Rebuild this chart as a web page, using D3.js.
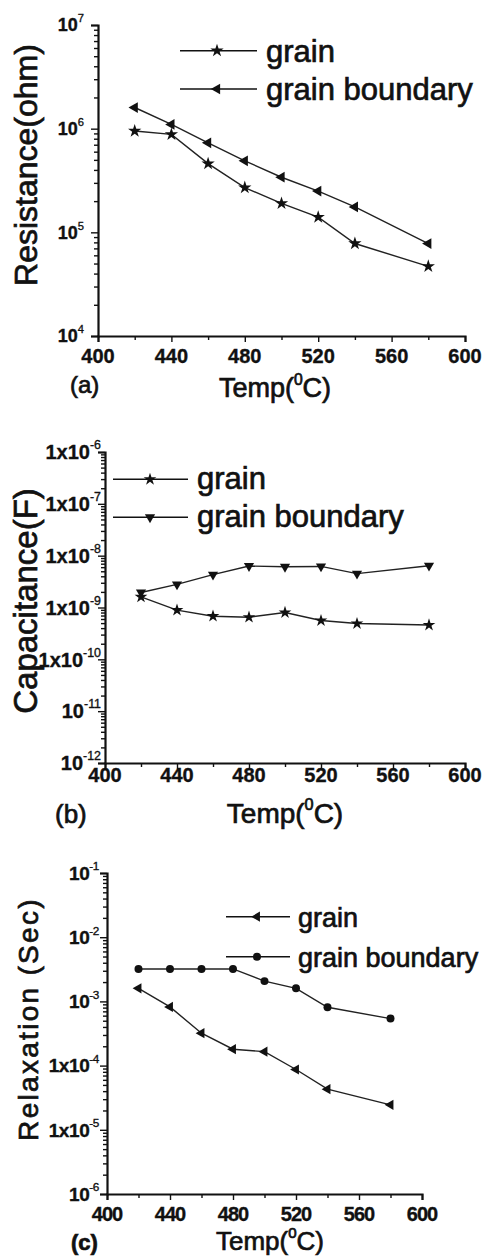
<!DOCTYPE html>
<html>
<head>
<meta charset="utf-8">
<script src="https://cdn.jsdelivr.net/npm/d3@7"></script>
<style>
  body { margin: 0; background: #fff; }
  svg { display: block; }
  text { font-family: "Liberation Sans", Arial, sans-serif; fill: #111; stroke: #111; stroke-width: 0.35; }
  text.heavy { stroke-width: 0.7; }
</style>
</head>
<body>
<svg id="fig" width="485" height="1260"></svg>
<script>
// ---- data ----
const temps = [420, 440, 460, 480, 500, 520, 540, 580];

const resistanceGrain    = [9.5e5, 8.8e5, 4.6e5, 2.7e5, 1.9e5, 1.4e5, 7.8e4, 4.7e4];
const resistanceBoundary = [1.6e6, 1.1e6, 7.3e5, 4.9e5, 3.4e5, 2.5e5, 1.76e5, 7.8e4];

const capacitanceGrain    = [1.6e-9, 8.9e-10, 6.8e-10, 6.5e-10, 8.0e-10, 5.6e-10, 4.9e-10, 4.6e-10];
const capacitanceBoundary = [1.95e-9, 2.8e-9, 4.3e-9, 6.3e-9, 6.1e-9, 6.2e-9, 4.5e-9, 6.4e-9];

const relaxationGrain    = [1.6e-3, 8.2e-4, 3.2e-4, 1.8e-4, 1.65e-4, 8.7e-5, 4.3e-5, 2.45e-5];
const relaxationBoundary = [3.2e-3, 3.2e-3, 3.2e-3, 3.2e-3, 2.07e-3, 1.6e-3, 8.1e-4, 5.4e-4];

const seriesNames = ["grain", "grain boundary"];

// axis ticks
const xTicks      = [400, 440, 480, 520, 560, 600];
const xMinorTicks = [420, 460, 500, 540, 580];
const resExponents = [4, 5, 6, 7];
const resPrefixed  = [];
const capExponents = [-12, -11, -10, -9, -8, -7, -6];
const capPrefixed  = [-10, -9, -8, -7, -6];     // written as 1x10^n
const relExponents = [-6, -5, -4, -3, -2, -1];
const relPrefixed  = [-5, -4];

const svg = d3.select("#fig");

const symbols = {
  star:  { type: d3.symbolStar, rot: 0 },
  left:  { type: d3.symbolTriangle, rot: -90 },
  down:  { type: d3.symbolTriangle, rot: 180 },
  circle:{ type: d3.symbolCircle, rot: 0 }
};

function marker(g, kind, size, cx, cy) {
  const s = symbols[kind];
  g.append("path")
    .attr("d", d3.symbol().type(s.type).size(size)())
    .attr("transform", `translate(${cx},${cy}) rotate(${s.rot})`)
    .attr("fill", "#111");
}

function panel(cfg) {
  const g = svg.append("g");
  const x = d3.scaleLinear().domain([400, 600]).range([cfg.x0, cfg.x1]);
  const y = d3.scaleLog()
    .domain([Math.pow(10, cfg.exps[0]), Math.pow(10, cfg.exps[cfg.exps.length - 1])])
    .range([cfg.yBot, cfg.yTop]);

  // minor log ticks: 2..9 in every decade
  const minor = [];
  for (let i = 0; i < cfg.exps.length - 1; i++) {
    for (let k = 2; k <= 9; k++) minor.push(k * Math.pow(10, cfg.exps[i]));
  }
  const major = cfg.exps.map(e => Math.pow(10, e));

  const yAxis = g.append("g").attr("transform", `translate(${cfg.x0},0)`);
  yAxis.call(d3.axisLeft(y).tickValues(major).tickSize(7).tickFormat(""));
  yAxis.append("g").call(d3.axisLeft(y).tickValues(minor).tickSize(4).tickFormat(""))
    .select(".domain").remove();

  const xAxis = g.append("g").attr("transform", `translate(0,${cfg.yBot})`);
  xAxis.call(d3.axisBottom(x).tickValues(xTicks).tickSize(6).tickFormat(""));
  xAxis.append("g").call(d3.axisBottom(x).tickValues(xMinorTicks).tickSize(4).tickFormat(""))
    .select(".domain").remove();

  g.selectAll(".domain").attr("stroke", "#111").attr("stroke-width", 2.2);
  g.selectAll(".tick line").attr("stroke", "#111").attr("stroke-width", 1.4);

  // y tick labels (powers of ten with superscript exponent)
  cfg.exps.forEach(e => {
    const t = g.append("text")
      .attr("x", cfg.yLabelX)
      .attr("y", y(Math.pow(10, e)) + cfg.yTickFont * 0.36)
      .attr("text-anchor", "end")
      .attr("font-size", cfg.yTickFont)
      .attr("font-weight", "bold")
      .attr("letter-spacing", cfg.yTickSpacing || 0);
    t.append("tspan").text((cfg.prefixed.includes(e) ? "1x" : "") + "10");
    t.append("tspan").attr("dy", -cfg.yTickFont * 0.5).attr("font-size", cfg.yTickFont * 0.62)
      .attr("font-weight", "normal").text(e);
  });

  // x tick labels
  xTicks.forEach(v => {
    g.append("text")
      .attr("x", x(v)).attr("y", cfg.xLabelY)
      .attr("text-anchor", "middle")
      .attr("font-size", cfg.xTickFont)
      .attr("font-weight", "bold")
      .attr("letter-spacing", cfg.xTickSpacing || 0)
      .text(v);
  });

  // y title
  g.append("text").attr("class", "heavy")
    .attr("transform", `translate(${cfg.yTitleX},${cfg.yTitleY}) rotate(-90)`)
    .attr("text-anchor", "middle")
    .attr("font-size", cfg.yTitleSize)
    .attr("letter-spacing", cfg.yTitleSpacing || 0)
    .text(cfg.yTitle);

  // x title with superscript zero
  const xt = g.append("text").attr("class", "heavy")
    .attr("x", cfg.xTitleX).attr("y", cfg.xTitleY)
    .attr("text-anchor", "middle")
    .attr("font-size", cfg.xTitleSize);
  xt.append("tspan").text("Temp(");
  xt.append("tspan").attr("dy", -cfg.xTitleSize * 0.45).attr("font-size", cfg.xTitleSize * 0.58).text("0");
  xt.append("tspan").attr("dy", cfg.xTitleSize * 0.45).text("C)");

  // panel letter
  g.append("text").attr("class", "heavy")
    .attr("x", cfg.letterX).attr("y", cfg.letterY)
    .attr("font-size", cfg.letterSize)
    .attr("font-weight", cfg.letterWeight || "normal")
    .text(cfg.letter);

  // series lines and markers
  const line = d3.line().x((d, i) => x(temps[i])).y(d => y(d));
  cfg.series.forEach(s => {
    g.append("path").datum(s.values)
      .attr("d", line).attr("fill", "none")
      .attr("stroke", "#222").attr("stroke-width", 1.4);
    s.values.forEach((v, i) => marker(g, s.symbol, s.size, x(temps[i]), y(v)));
  });

  // legend
  const L = cfg.legend;
  cfg.series.forEach((s, i) => {
    const ly = L.rows[i];
    g.append("line").attr("x1", L.x0).attr("x2", L.x1).attr("y1", ly).attr("y2", ly)
      .attr("stroke", "#111").attr("stroke-width", 1.6);
    marker(g, s.symbol, s.size, L.mx, ly);
    g.append("text").attr("class", "heavy").attr("x", L.tx).attr("y", ly + L.dy)
      .attr("font-size", L.font).text(seriesNames[i]);
  });
}

panel({
  x0: 98, x1: 465, yTop: 25, yBot: 336,
  exps: resExponents, prefixed: resPrefixed,
  yLabelX: 84, yTickFont: 18,
  xLabelY: 363, xTickFont: 20,
  yTitle: "Resistance(ohm)", yTitleX: 37, yTitleY: 165, yTitleSize: 32,
  xTitleX: 275, xTitleY: 397, xTitleSize: 27,
  letter: "(a)", letterX: 70, letterY: 393, letterSize: 24,
  series: [
    { values: resistanceGrain, symbol: "star", size: 55 },
    { values: resistanceBoundary, symbol: "left", size: 50 }
  ],
  legend: { x0: 180, x1: 257, mx: 217, rows: [50.7, 89], tx: 266, dy: 11, font: 31 }
});

panel({
  x0: 105, x1: 465, yTop: 452, yBot: 763,
  exps: capExponents, prefixed: capPrefixed,
  yLabelX: 101, yTickFont: 20,
  xLabelY: 782, xTickFont: 20,
  yTitle: "Capacitance(F)", yTitleX: 37, yTitleY: 601, yTitleSize: 33,
  xTitleX: 285, xTitleY: 823, xTitleSize: 28,
  letter: "(b)", letterX: 55, letterY: 823, letterSize: 26,
  series: [
    { values: capacitanceGrain, symbol: "star", size: 50 },
    { values: capacitanceBoundary, symbol: "down", size: 45 }
  ],
  legend: { x0: 113, x1: 188, mx: 150, rows: [479.3, 517.3], tx: 197, dy: 10, font: 31 }
});

panel({
  x0: 107, x1: 422, yTop: 873, yBot: 1194,
  exps: relExponents, prefixed: relPrefixed,
  yLabelX: 99, yTickFont: 19, yTickSpacing: -0.4,
  xLabelY: 1221, xTickFont: 20, xTickSpacing: -1,
  yTitle: "Relaxation (Sec)", yTitleX: 38, yTitleY: 1019, yTitleSize: 28, yTitleSpacing: 2.3,
  xTitleX: 270, xTitleY: 1250, xTitleSize: 26,
  letter: "(c)", letterX: 71, letterY: 1250, letterSize: 22, letterWeight: "bold",
  series: [
    { values: relaxationGrain, symbol: "left", size: 45 },
    { values: relaxationBoundary, symbol: "circle", size: 50 }
  ],
  legend: { x0: 226, x1: 290, mx: 257, rows: [916.7, 956.7], tx: 298, dy: 10, font: 27 }
});
</script>
</body>
</html>
